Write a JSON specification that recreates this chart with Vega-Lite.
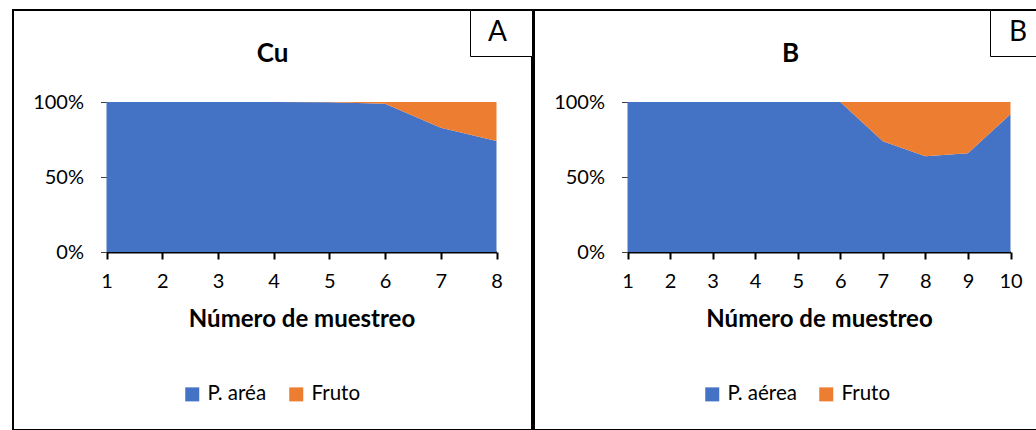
{
  "$schema": "https://vega.github.io/schema/vega-lite/v6.json",
  "padding": {"left": 12, "top": 8, "right": 0, "bottom": 2},
  "spacing": 2,
  "bounds": "flush",
  "background": "white",
  "config": {
    "font": "Lato",
    "view": {"stroke": "black", "strokeWidth": 2},
    "axis": {
      "grid": false,
      "labelFont": "Lato",
      "labelFontSize": 20,
      "labelColor": "black",
      "labelFlush": false,
      "labelOverlap": false,
      "titleFont": "Lato",
      "titleFontSize": 24,
      "titleFontWeight": "bold",
      "titleColor": "black",
      "zindex": 1
    },
    "axisX": {"domainColor": "black", "domainWidth": 2, "tickColor": "black", "tickWidth": 2, "tickSize": 7, "labelPadding": 12, "titlePadding": 16},
    "axisY": {"domain": false, "tickColor": "#404040", "tickWidth": 1, "tickSize": 6, "labelPadding": 17},
    "title": {"font": "Lato", "fontSize": 26, "fontWeight": "bold", "color": "black", "anchor": "middle", "frame": "group"}
  },
  "resolve": {
    "scale": {"x": "independent", "y": "independent", "color": "independent", "opacity": "independent"},
    "legend": {"color": "independent", "opacity": "independent"}
  },
  "hconcat": [
    {
      "width": 519,
      "height": 420,
      "title": {"text": "Cu", "offset": -57},
      "data": {"values": [
        {"muestreo": 1, "parte": "P. aréa", "pct": 100, "panel": "A"},
        {"muestreo": 2, "parte": "P. aréa", "pct": 100, "panel": "A"},
        {"muestreo": 3, "parte": "P. aréa", "pct": 100, "panel": "A"},
        {"muestreo": 4, "parte": "P. aréa", "pct": 100, "panel": "A"},
        {"muestreo": 5, "parte": "P. aréa", "pct": 99.9, "panel": "A"},
        {"muestreo": 6, "parte": "P. aréa", "pct": 98.9, "panel": "A"},
        {"muestreo": 7, "parte": "P. aréa", "pct": 82.9, "panel": "A"},
        {"muestreo": 8, "parte": "P. aréa", "pct": 74.0, "panel": "A"},
        {"muestreo": 1, "parte": "Fruto", "pct": 0, "panel": "A"},
        {"muestreo": 2, "parte": "Fruto", "pct": 0, "panel": "A"},
        {"muestreo": 3, "parte": "Fruto", "pct": 0, "panel": "A"},
        {"muestreo": 4, "parte": "Fruto", "pct": 0, "panel": "A"},
        {"muestreo": 5, "parte": "Fruto", "pct": 0.1, "panel": "A"},
        {"muestreo": 6, "parte": "Fruto", "pct": 1.1, "panel": "A"},
        {"muestreo": 7, "parte": "Fruto", "pct": 17.1, "panel": "A"},
        {"muestreo": 8, "parte": "Fruto", "pct": 26.0, "panel": "A"}
      ]},
      "mark": {"type": "area"},
      "encoding": {
        "x": {"field": "muestreo", "type": "quantitative",
              "scale": {"domain": [1, 8], "range": [93.5, 483.5], "nice": false, "zero": false},
              "axis": {"title": "Número de muestreo", "values": [1, 2, 3, 4, 5, 6, 7, 8], "format": "d", "offset": -178}},
        "y": {"field": "pct", "type": "quantitative", "stack": "normalize",
              "scale": {"domain": [0, 1], "range": [242, 92], "nice": false},
              "axis": {"title": null, "values": [0, 0.5, 1], "format": "%", "offset": -93.5}},
        "color": {"field": "parte", "type": "nominal", "sort": ["P. aréa", "Fruto"],
                  "scale": {"domain": ["P. aréa", "Fruto"], "range": ["#4472C4", "#ED7D31"]},
                  "legend": {"title": null, "orient": "none", "legendX": 169, "legendY": 374, "direction": "horizontal",
                             "symbolType": "square", "symbolSize": 196, "symbolStrokeWidth": 0, "symbolOpacity": 1,
                             "labelFontSize": 20.5, "labelFont": "Lato", "labelColor": "black", "labelOffset": 5, "columnPadding": 19, "padding": 0}},
        "opacity": {"field": "panel", "type": "ordinal",
                    "scale": {"domain": ["A"], "range": [1, 1]},
                    "legend": {"title": null, "orient": "top-right", "offset": 0, "strokeColor": "black", "fillColor": "white",
                               "padding": 9, "symbolSize": 1, "symbolOpacity": 0, "symbolStrokeWidth": 0,
                               "symbolFillColor": "transparent", "symbolStrokeColor": "transparent", "symbolOffset": 29,
                               "labelFontSize": 28, "labelFont": "Lato", "labelColor": "black", "labelOffset": -48}}
      }
    },
    {
      "width": 503,
      "height": 420,
      "title": {"text": "B", "offset": -57, "dx": 5},
      "data": {"values": [
        {"muestreo": 1, "parte": "P. aérea", "pct": 100, "panel": "B"},
        {"muestreo": 2, "parte": "P. aérea", "pct": 100, "panel": "B"},
        {"muestreo": 3, "parte": "P. aérea", "pct": 100, "panel": "B"},
        {"muestreo": 4, "parte": "P. aérea", "pct": 100, "panel": "B"},
        {"muestreo": 5, "parte": "P. aérea", "pct": 100, "panel": "B"},
        {"muestreo": 6, "parte": "P. aérea", "pct": 100, "panel": "B"},
        {"muestreo": 7, "parte": "P. aérea", "pct": 73.8, "panel": "B"},
        {"muestreo": 8, "parte": "P. aérea", "pct": 63.8, "panel": "B"},
        {"muestreo": 9, "parte": "P. aérea", "pct": 65.8, "panel": "B"},
        {"muestreo": 10, "parte": "P. aérea", "pct": 91.8, "panel": "B"},
        {"muestreo": 1, "parte": "Fruto", "pct": 0, "panel": "B"},
        {"muestreo": 2, "parte": "Fruto", "pct": 0, "panel": "B"},
        {"muestreo": 3, "parte": "Fruto", "pct": 0, "panel": "B"},
        {"muestreo": 4, "parte": "Fruto", "pct": 0, "panel": "B"},
        {"muestreo": 5, "parte": "Fruto", "pct": 0, "panel": "B"},
        {"muestreo": 6, "parte": "Fruto", "pct": 0, "panel": "B"},
        {"muestreo": 7, "parte": "Fruto", "pct": 26.2, "panel": "B"},
        {"muestreo": 8, "parte": "Fruto", "pct": 36.2, "panel": "B"},
        {"muestreo": 9, "parte": "Fruto", "pct": 34.2, "panel": "B"},
        {"muestreo": 10, "parte": "Fruto", "pct": 8.2, "panel": "B"}
      ]},
      "mark": {"type": "area"},
      "encoding": {
        "x": {"field": "muestreo", "type": "quantitative",
              "scale": {"domain": [1, 10], "range": [93.5, 476.5], "nice": false, "zero": false},
              "axis": {"title": "Número de muestreo", "values": [1, 2, 3, 4, 5, 6, 7, 8, 9, 10], "format": "d", "offset": -178}},
        "y": {"field": "pct", "type": "quantitative", "stack": "normalize",
              "scale": {"domain": [0, 1], "range": [242, 92], "nice": false},
              "axis": {"title": null, "values": [0, 0.5, 1], "format": "%", "offset": -93.5}},
        "color": {"field": "parte", "type": "nominal", "sort": ["P. aérea", "Fruto"],
                  "scale": {"domain": ["P. aérea", "Fruto"], "range": ["#4472C4", "#ED7D31"]},
                  "legend": {"title": null, "orient": "none", "legendX": 168, "legendY": 374, "direction": "horizontal",
                             "symbolType": "square", "symbolSize": 196, "symbolStrokeWidth": 0, "symbolOpacity": 1,
                             "labelFontSize": 20.5, "labelFont": "Lato", "labelColor": "black", "labelOffset": 5, "columnPadding": 19, "padding": 0}},
        "opacity": {"field": "panel", "type": "ordinal",
                    "scale": {"domain": ["B"], "range": [1, 1]},
                    "legend": {"title": null, "orient": "top-right", "offset": 0, "strokeColor": "black", "fillColor": "white",
                               "padding": 9, "symbolSize": 1, "symbolOpacity": 0, "symbolStrokeWidth": 0,
                               "symbolFillColor": "transparent", "symbolStrokeColor": "transparent",
                               "labelFontSize": 28, "labelFont": "Lato", "labelColor": "black", "labelOffset": -18}}
      }
    }
  ]
}
